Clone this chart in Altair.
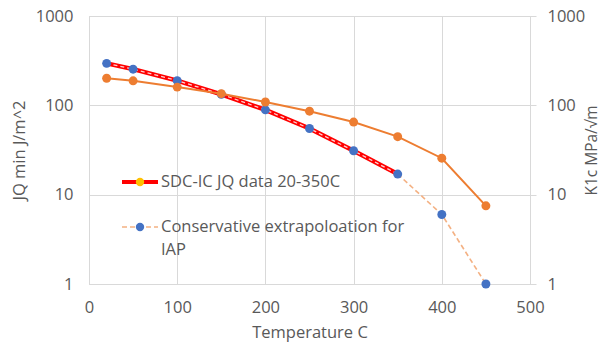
import altair as alt
import pandas as pd

temps = [20, 50, 100, 150, 200, 250, 300, 350]
jq_values = [295, 254, 189, 133, 89, 55, 31, 17]
ext_temps = [350, 400, 450]
ext_values = [17, 6, 1]
k1c_temps = [20, 50, 100, 150, 200, 250, 300, 350, 400, 450]
k1c_values = [201, 188, 160, 135, 109, 86, 65, 44.6, 25.6, 7.5]
legend_labels = ["SDC-IC JQ data 20-350C", ["Conservative extrapoloation for", "IAP"]]

jq = pd.DataFrame({"t": temps, "v": jq_values})
ext = pd.DataFrame({"t": ext_temps, "v": ext_values})
k1c = pd.DataFrame({"t": k1c_temps, "v": k1c_values})

FONT = "Open Sans"
GRAY = "#595959"
GRID = "#d9d9d9"
FS = 16.5

xs = alt.Scale(domain=[0, 500], nice=False)
ys = alt.Scale(type="log", domain=[1, 1000], nice=False)

xaxis = alt.Axis(values=[0, 100, 200, 300, 400, 500], title="Temperature C",
                 grid=True, gridColor=GRID, domainColor=GRID, ticks=False, labelFlush=False,
                 labelPadding=15, titlePadding=9, labelFontSize=FS, titleFontSize=FS,
                 labelColor=GRAY, titleColor=GRAY, labelFont=FONT, titleFont=FONT,
                 titleFontWeight="normal")
yaxis_left = alt.Axis(values=[1, 10, 100, 1000], title="JQ min J/m^2", format="d",
                      grid=True, gridColor=GRID, domainColor=GRID, ticks=False, labelFlush=False,
                      labelPadding=16, titlePadding=8, labelFontSize=FS, titleFontSize=FS,
                      labelColor=GRAY, titleColor=GRAY, labelFont=FONT, titleFont=FONT,
                      titleFontWeight="normal")
yaxis_right = alt.Axis(values=[1, 10, 100, 1000], title="K1c MPa/√m", format="d", orient="right",
                       grid=False, domainColor=GRID, ticks=True, tickColor=GRID, tickSize=6,
                       labelFlush=False, titleAngle=270, titleBaseline="top",
                       labelPadding=11, titlePadding=0, labelFontSize=FS, titleFontSize=15.5,
                       labelColor=GRAY, titleColor=GRAY, labelFont=FONT, titleFont=FONT,
                       titleFontWeight="normal")

X = alt.X("t:Q", scale=xs, axis=xaxis)
Y = alt.Y("v:Q", scale=ys, axis=yaxis_left)
Yr = alt.Y("v:Q", scale=ys, axis=yaxis_right)

base_jq = alt.Chart(jq)
red_line = base_jq.mark_line(color="#ff0000", strokeWidth=4.5).encode(x=X, y=Y)
red_inner = base_jq.mark_line(color="#ffd0d0", strokeWidth=1.3, strokeDash=[4, 3]).encode(x=X, y=Y)
ext_line = alt.Chart(ext).mark_line(color="#f4b183", strokeWidth=1.6, strokeDash=[5, 3]).encode(x=X, y=Y)
blue_pts = alt.Chart(pd.concat([jq, ext.iloc[1:]])).mark_circle(color="#4472c4", opacity=1, size=80).encode(x=X, y=Y)

orange_line = alt.Chart(k1c).mark_line(color="#ed7d31", strokeWidth=2).encode(x=X, y=Yr)
orange_pts = alt.Chart(k1c).mark_circle(color="#ed7d31", opacity=1, size=80).encode(x=X, y=Yr)

left = alt.layer(red_line, red_inner, ext_line, blue_pts)
right = alt.layer(orange_line, orange_pts)

# legend
leg_df = pd.DataFrame({"k": [0]})
lg = alt.Chart(leg_df)
l1 = lg.mark_rule(color="#ff0000", strokeWidth=4).encode(x=alt.value(33), x2=alt.value(69), y=alt.value(166))
l1p = lg.mark_circle(color="#ffc000", opacity=1, size=70).encode(x=alt.value(51), y=alt.value(166))
l1t = lg.mark_text(text=legend_labels[0], align="left", baseline="middle", font=FONT, fontSize=FS,
                   color=GRAY).encode(x=alt.value(72), y=alt.value(166))
l2 = lg.mark_rule(color="#f4b183", strokeWidth=1.6, strokeDash=[5, 3]).encode(x=alt.value(33), x2=alt.value(69), y=alt.value(211))
l2p = lg.mark_circle(color="#4472c4", opacity=1, size=70).encode(x=alt.value(51), y=alt.value(211))
l2t = lg.mark_text(text=legend_labels[1], align="left", baseline="middle", font=FONT, fontSize=FS,
                   lineHeight=23, color=GRAY).encode(x=alt.value(72), y=alt.value(211))
legend = alt.layer(l1, l1p, l1t, l2, l2p, l2t)

chart = alt.layer(left, right, legend).resolve_scale(y="independent").properties(
    width=441, height=268,
    autosize=alt.AutoSizeParams(type="none"),
    padding={"left": 81, "top": 8, "right": 70, "bottom": 59},
).configure_view(stroke=None).configure(background="white")

chart.save("out.html", embed_options={"renderer": "svg", "actions": False})
